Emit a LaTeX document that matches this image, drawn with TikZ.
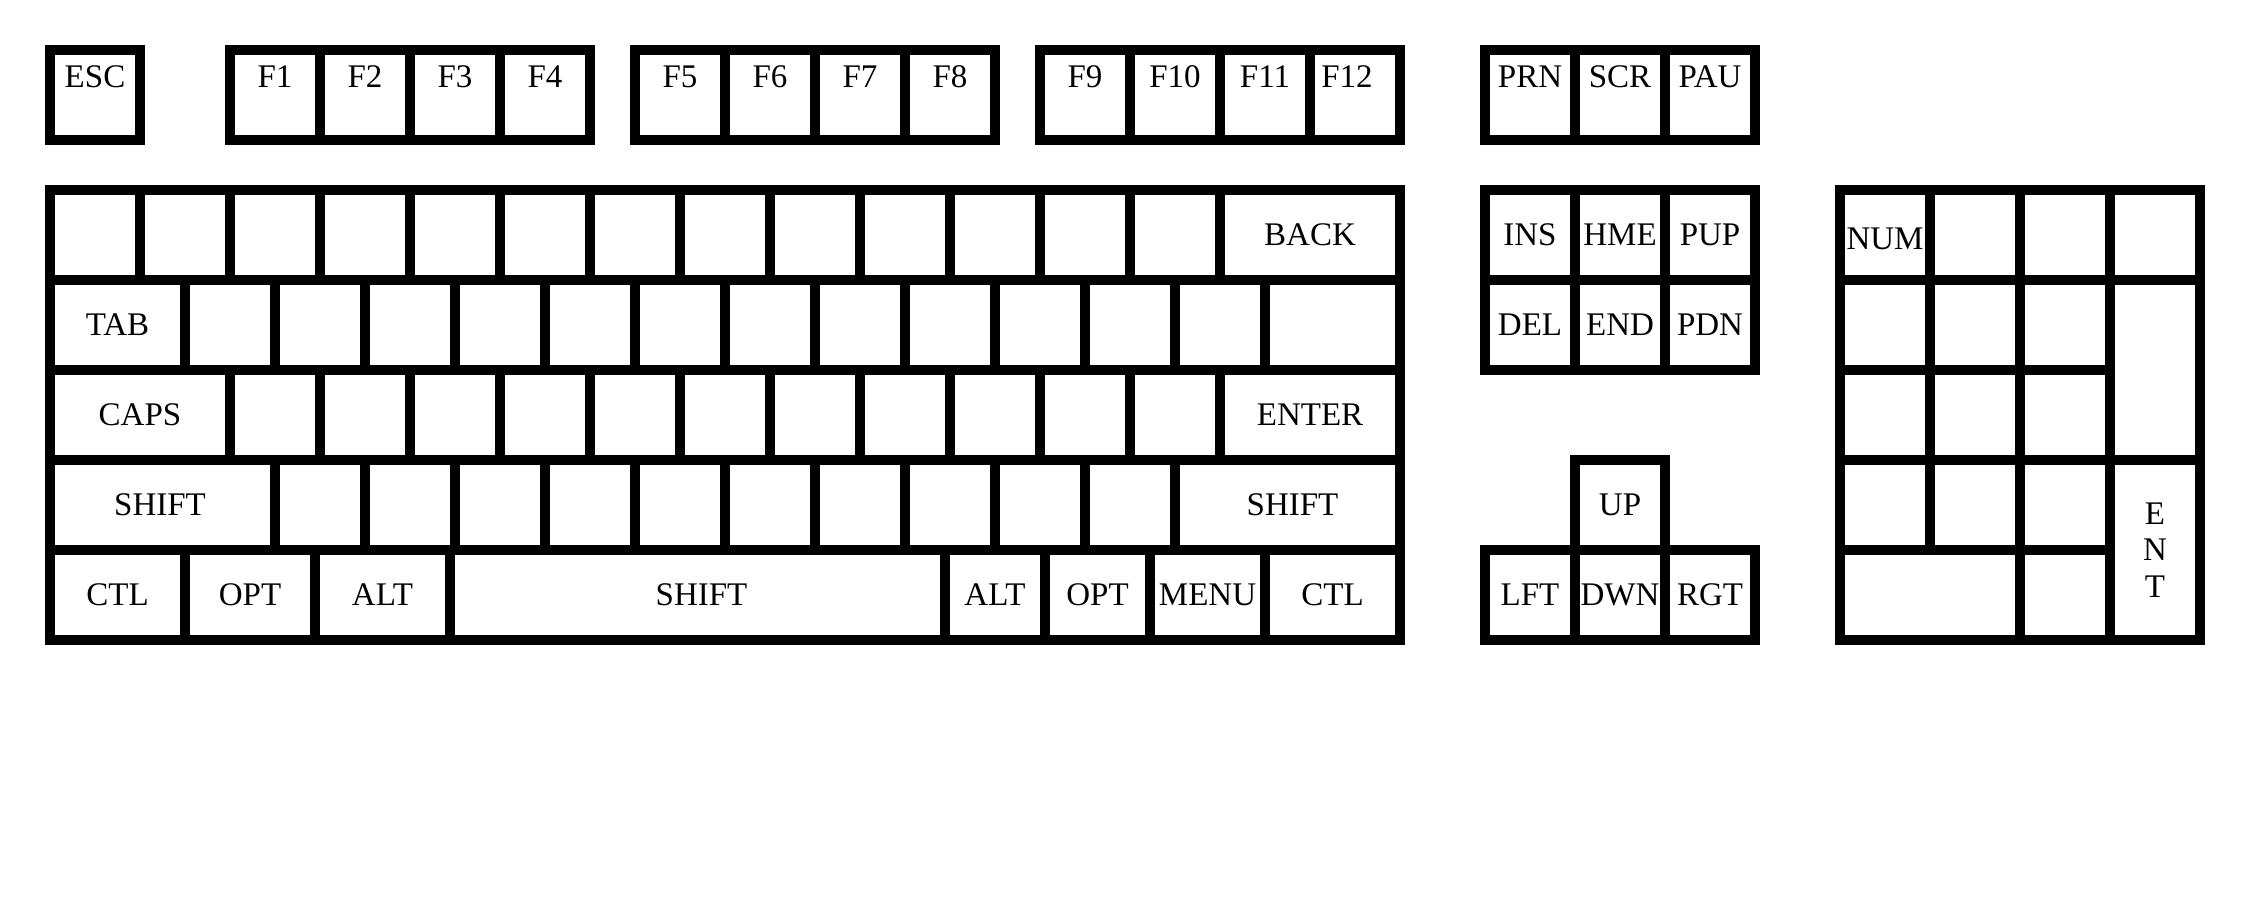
\documentclass[tikz,border=0pt]{standalone}
\usepackage{fontspec}
\setmainfont{Liberation Serif}
\newcommand\keyfont{\fontsize{33}{32}\selectfont}
\tikzset{
  key/.style={draw=black, line width=10pt, inner sep=0pt, minimum width=90pt, minimum height=90pt, font=\keyfont},
  fkey/.style={key, text height=37pt, text depth=53pt},
}
\begin{document}
\begin{tikzpicture}[x=1pt, y=-1pt]
\useasboundingbox (0,0) rectangle (2245,900);
\fill[white] (0,0) rectangle (2245,900);
% function row
\node[fkey] (esc) at (95,95) {ESC};
\node[fkey] (f1) at (275,95) {F1};
\node[fkey] (f2) at (365,95) {F2};
\node[fkey] (f3) at (455,95) {F3};
\node[fkey] (f4) at (545,95) {F4};
\node[fkey] (f5) at (680,95) {F5};
\node[fkey] (f6) at (770,95) {F6};
\node[fkey] (f7) at (860,95) {F7};
\node[fkey] (f8) at (950,95) {F8};
\node[fkey] (f9) at (1085,95) {F9};
\node[fkey] (f10) at (1175,95) {F10};
\node[fkey] (f11) at (1265,95) {F11};
\node[fkey] (f12) at (1355,95) {\hspace*{-16pt}F12};
\node[fkey] (prn) at (1530,95) {PRN};
\node[fkey] (scr) at (1620,95) {SCR};
\node[fkey] (pau) at (1710,95) {PAU};
% row 1
\foreach \i in {1,...,13} \node[key] (ra\i) at ({5+90*\i},235) {};
\node[key, minimum width=180pt] (back) at (1310,235) {BACK};
% row 2
\node[key, minimum width=135pt] (tab) at (117.5,325) {TAB};
\foreach \i in {1,...,12} \node[key] (rb\i) at ({140+90*\i},325) {};
\node[key, minimum width=135pt] (bsl) at (1332.5,325) {};
% row 3
\node[key, minimum width=180pt] (caps) at (140,415) {CAPS};
\foreach \i in {1,...,11} \node[key] (rc\i) at ({185+90*\i},415) {};
\node[key, minimum width=180pt] (enter) at (1310,415) {ENTER};
% row 4
\node[key, minimum width=225pt] (lshift) at (162.5,505) {\hspace*{-5pt}SHIFT};
\foreach \i in {1,...,10} \node[key] (rd\i) at ({230+90*\i},505) {};
\node[key, minimum width=225pt] (rshift) at (1287.5,505) {\hspace*{10pt}SHIFT};
% row 5
\node[key, minimum width=135pt] (lctl) at (117.5,595) {CTL};
\node[key, minimum width=130pt] (lopt) at (250,595) {OPT};
\node[key, minimum width=135pt] (lalt) at (382.5,595) {ALT};
\node[key, minimum width=495pt] (space) at (697.5,595) {\hspace*{8pt}SHIFT};
\node[key, minimum width=100pt] (ralt) at (995,595) {ALT};
\node[key, minimum width=105pt] (ropt) at (1097.5,595) {OPT};
\node[key, minimum width=115pt] (menu) at (1207.5,595) {MENU};
\node[key, minimum width=135pt] (rctl) at (1332.5,595) {CTL};
% navigation
\node[key] (ins) at (1530,235) {INS};
\node[key] (hme) at (1620,235) {HME};
\node[key] (pup) at (1710,235) {PUP};
\node[key] (del) at (1530,325) {DEL};
\node[key] (end) at (1620,325) {END};
\node[key] (pdn) at (1710,325) {PDN};
% arrows
\node[key] (up) at (1620,505) {UP};
\node[key] (lft) at (1530,595) {LFT};
\node[key] (dwn) at (1620,595) {DWN};
\node[key] (rgt) at (1710,595) {RGT};
% numpad
\node[key, text height=28pt, text depth=0pt] (num) at (1885,235) {NUM};
\node[key] (npa2) at (1975,235) {};
\node[key] (npa3) at (2065,235) {};
\node[key] (npa4) at (2155,235) {};
\foreach \r/\y in {b/325,c/415,d/505} {
  \node[key] (np\r1) at (1885,\y) {};
  \node[key] (np\r2) at (1975,\y) {};
  \node[key] (np\r3) at (2065,\y) {};
}
\node[key, minimum height=180pt] (npplus) at (2155,370) {};
\node[key, minimum height=180pt, align=center, font=\fontsize{33}{36.5}\selectfont] (npent) at (2155,550) {E\\N\\T};
\node[key, minimum width=180pt] (npzero) at (1930,595) {};
\node[key] (npdot) at (2065,595) {};
\end{tikzpicture}
\end{document}
